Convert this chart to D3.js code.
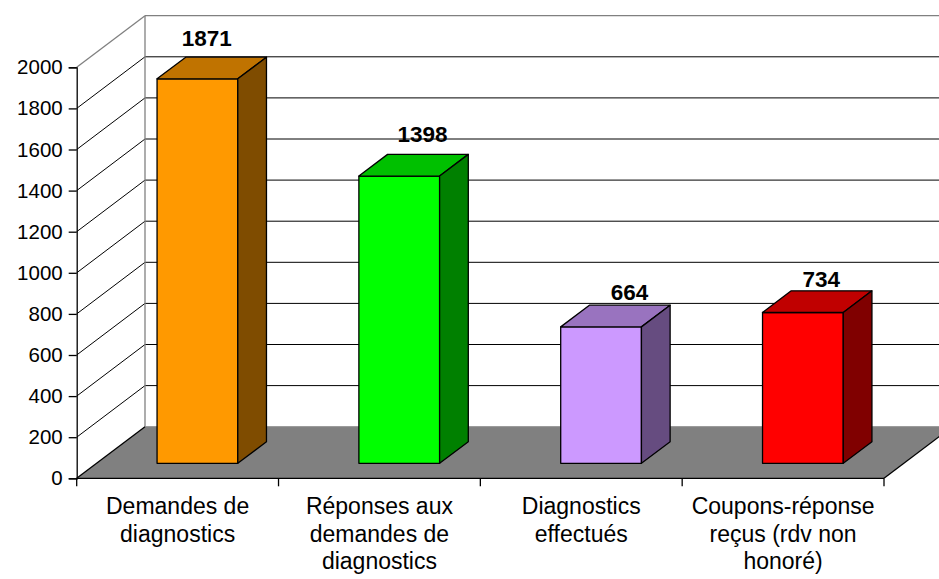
<!DOCTYPE html>
<html><head><meta charset="utf-8">
<script src="https://cdn.jsdelivr.net/npm/d3@7"></script>
<style>body{margin:0;background:#fff} svg{display:block} text{font-family:"Liberation Sans",Arial,sans-serif;fill:#000}</style>
</head><body><svg id="c" width="939" height="579"></svg>
<script>
const categories = ["Demandes de\ndiagnostics","Réponses aux\ndemandes de\ndiagnostics","Diagnostics\neffectués","Coupons-réponse\nreçus (rdv non\nhonoré)"];
const values = [1871, 1398, 664, 734];
const yTicks = [0,200,400,600,800,1000,1200,1400,1600,1800,2000];
const frontColors = ["#FF9900","#00FF00","#CC99FF","#FF0000"];
const topColors = ["#C07300","#00C000","#9973BF","#C00000"];
const sideColors = ["#7F4C00","#008000","#664C80","#800000"];
const labelNudge = [[-5,-3],[9,-4],[14,2.5],[4,4]];

const X0=76.7, X1=884, Y0=478.3, Ytop=67.3;
const DX=68.3, DY=51.6;
const D0=0.29, D1=0.71;
const svg = d3.select("#c");
const x = d3.scaleBand().domain(categories).range([X0,X1]).padding(0);
const y = d3.scaleLinear().domain([0,2000]).range([Y0,Ytop]);
const P = (px,py,d)=>[px+d*DX, py-d*DY];
const poly = pts => pts.map(p=>p.join(",")).join(" ");
const bwid = x.bandwidth();

// back wall
svg.append("polygon").attr("points", poly([P(X0,Ytop,1),P(X1,Ytop,1),P(X1,Y0,1),P(X0,Y0,1)])).attr("fill","#fff");
// gridlines
const gl = svg.append("g");
yTicks.filter(v=>v>0 && v<2000).forEach(v=>{
  const a=P(X0,y(v),1), b=P(X1,y(v),1);
  gl.append("line").attr("x1",a[0]).attr("y1",a[1]).attr("x2",b[0]).attr("y2",b[1]).attr("stroke","#000").attr("stroke-width",1);
  gl.append("line").attr("x1",X0).attr("y1",y(v)).attr("x2",a[0]).attr("y2",a[1]).attr("stroke","#000").attr("stroke-width",1);
});
// wall borders (gray)
{
  const a=P(X0,Ytop,1), b=P(X1,Ytop,1), c=P(X0,Y0,1);
  svg.append("line").attr("x1",a[0]).attr("y1",a[1]).attr("x2",b[0]).attr("y2",b[1]).attr("stroke","#808080").attr("stroke-width",1.3);
  svg.append("line").attr("x1",X0).attr("y1",Ytop).attr("x2",a[0]).attr("y2",a[1]).attr("stroke","#808080").attr("stroke-width",1.3);
  svg.append("line").attr("x1",a[0]).attr("y1",a[1]).attr("x2",c[0]).attr("y2",c[1]).attr("stroke","#808080").attr("stroke-width",1.3);
}
// floor
svg.append("polygon").attr("points", poly([[X0,Y0],[X1,Y0],P(X1,Y0,1),P(X0,Y0,1)])).attr("fill","#808080");
{
  const a=P(X0,Y0,1), b=P(X1,Y0,1);
  svg.append("line").attr("x1",a[0]).attr("y1",a[1]).attr("x2",b[0]).attr("y2",b[1]).attr("stroke","#8c8c8c").attr("stroke-width",1);
  svg.append("line").attr("x1",X0).attr("y1",Y0).attr("x2",a[0]).attr("y2",a[1]).attr("stroke","#000").attr("stroke-width",1.3);
  svg.append("line").attr("x1",X1).attr("y1",Y0).attr("x2",b[0]).attr("y2",b[1]).attr("stroke","#000").attr("stroke-width",1.3);
}
// bars
const bars = svg.append("g").attr("stroke","#000").attr("stroke-width",1.3).attr("stroke-linejoin","round");
categories.forEach((c,i)=>{
  const v=values[i];
  const xl = x(c) + bwid*0.3, xr = xl + bwid*0.4;
  bars.append("polygon").attr("points",poly([P(xl,y(0),D0),P(xr,y(0),D0),P(xr,y(v),D0),P(xl,y(v),D0)])).attr("fill",frontColors[i]);
  bars.append("polygon").attr("points",poly([P(xl,y(v),D0),P(xr,y(v),D0),P(xr,y(v),D1),P(xl,y(v),D1)])).attr("fill",topColors[i]);
  bars.append("polygon").attr("points",poly([P(xr,y(0),D0),P(xr,y(0),D1),P(xr,y(v),D1),P(xr,y(v),D0)])).attr("fill",sideColors[i]);
  const lp = P((xl+xr)/2, y(v), 0.5);
  svg.append("text").attr("x", lp[0]+labelNudge[i][0]).attr("y", y(v)-D1*DY-8+labelNudge[i][1])
    .attr("text-anchor","middle").attr("font-weight","bold").attr("font-size","22.5px").text(d3.format("d")(v));
});
// front axis
svg.append("line").attr("x1",X0).attr("y1",Y0).attr("x2",X1).attr("y2",Y0).attr("stroke","#000").attr("stroke-width",1.3);
const ax = svg.append("g").attr("transform",`translate(${X0},0)`)
  .call(d3.axisLeft(y).tickValues(yTicks).tickSize(8).tickPadding(6).tickFormat(d3.format("d")));
ax.select(".domain").attr("stroke","#000").attr("stroke-width",1.3);
ax.selectAll(".tick line").attr("stroke","#000").attr("stroke-width",1.3);
ax.selectAll(".tick text").attr("font-size","20.5px").attr("font-family","'Liberation Sans',Arial,sans-serif").attr("fill","#000");
// category ticks
const ct = [...categories.map(c=>x(c)), X1];
ct.forEach(t=>svg.append("line").attr("x1",t).attr("y1",Y0).attr("x2",t).attr("y2",Y0+8).attr("stroke","#000").attr("stroke-width",1.3));
// category labels
categories.forEach(c=>{
  const t = svg.append("text").attr("text-anchor","middle").attr("font-size","23px");
  c.split("\n").forEach((ln,k)=>t.append("tspan").attr("x", x(c)+bwid/2).attr("y", 514+k*27.5).text(ln));
});
</script></body></html>
